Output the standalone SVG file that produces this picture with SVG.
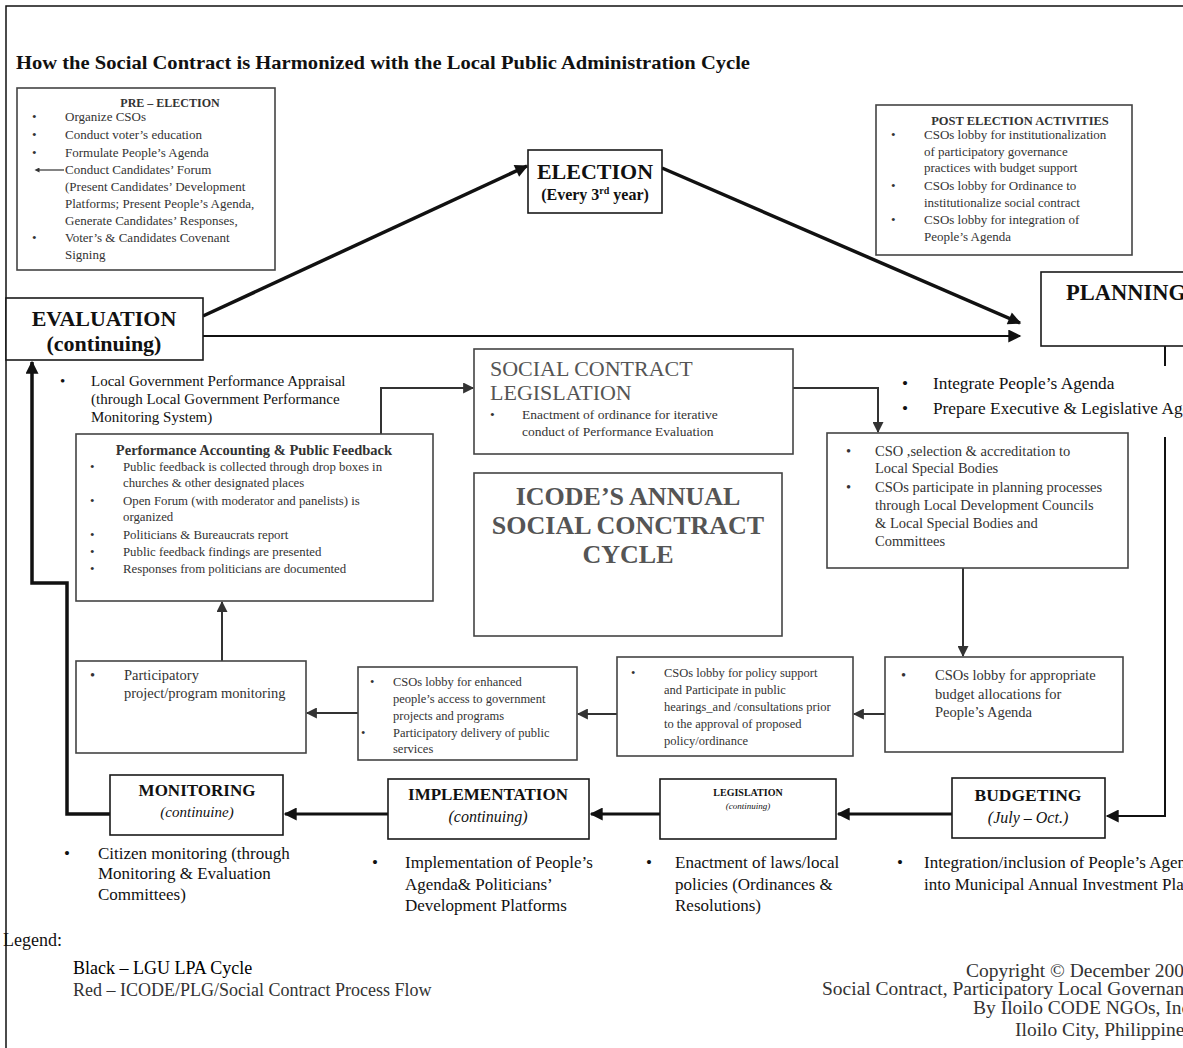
<svg xmlns="http://www.w3.org/2000/svg" width="1183" height="1048" viewBox="0 0 1183 1048">
<defs>
<marker id="ah" viewBox="0 0 10 10" refX="9" refY="5" markerWidth="16" markerHeight="13" markerUnits="userSpaceOnUse" orient="auto"><path d="M0,0 L10,5 L0,10 z" fill="#111"/></marker>
<marker id="ahg" viewBox="0 0 10 10" refX="9" refY="5" markerWidth="13" markerHeight="11" markerUnits="userSpaceOnUse" orient="auto"><path d="M0,0 L10,5 L0,10 z" fill="#333"/></marker>
<marker id="ahs" viewBox="0 0 10 10" refX="1" refY="5" markerWidth="6" markerHeight="5" markerUnits="userSpaceOnUse" orient="auto-start-reverse"><path d="M0,0 L10,5 L0,10 z" fill="#333"/></marker>
</defs>
<style>
text{font-family:"Liberation Serif","Times New Roman",serif;}
.box{fill:#fff;stroke:#1a1a1a;stroke-width:1.6}
.boxg{fill:#fff;stroke:#444;stroke-width:1.6}
.k{fill:#111}
.g{fill:#333}
.gl{fill:#555}
.b{font-weight:bold}
.i{font-style:italic}
.m{text-anchor:middle}
.ln{fill:none;stroke:#111}
.lg{fill:none;stroke:#333;stroke-width:2}
</style>
<rect width="1183" height="1048" fill="#fff"/>
<!-- page frame -->
<path d="M6,1048 V6 H1183" fill="none" stroke="#111" stroke-width="1.5"/>

<text x="16" y="69" font-size="19" class="k b" textLength="734" lengthAdjust="spacingAndGlyphs">How the Social Contract is Harmonized with the Local Public Administration Cycle</text>

<!-- connectors -->
<g id="connectors">
  <line class="ln" x1="203" y1="316" x2="527" y2="166" stroke-width="3.5" marker-end="url(#ah)"/>
  <line class="ln" x1="662" y1="168" x2="1020" y2="323" stroke-width="3.5" marker-end="url(#ah)"/>
  <line class="ln" x1="203" y1="336" x2="1020" y2="336" stroke-width="2" marker-end="url(#ah)"/>
  <line class="ln" x1="1165" y1="346" x2="1165" y2="366" stroke-width="2"/>
  <path class="ln" d="M1165,437 V816 H1107" stroke-width="2" marker-end="url(#ah)"/>
  <line class="ln" x1="952" y1="814" x2="838" y2="814" stroke-width="3" marker-end="url(#ah)"/>
  <line class="ln" x1="660" y1="814" x2="591" y2="814" stroke-width="3" marker-end="url(#ah)"/>
  <line class="ln" x1="388" y1="814" x2="285" y2="814" stroke-width="3" marker-end="url(#ah)"/>
  <path class="ln" d="M110,814 H67 V583 H32 V362" stroke-width="3.5" marker-end="url(#ah)"/>
  <path class="lg" d="M381,434 V388 H473" marker-end="url(#ahg)"/>
  <path class="lg" d="M793,388 H878 V432" marker-end="url(#ahg)"/>
  <line class="lg" x1="963" y1="568" x2="963" y2="656" marker-end="url(#ahg)"/>
  <line class="lg" x1="885" y1="714" x2="854" y2="714" marker-end="url(#ahg)"/>
  <line class="lg" x1="617" y1="714" x2="578" y2="714" marker-end="url(#ahg)"/>
  <line class="lg" x1="358" y1="713" x2="307" y2="713" marker-end="url(#ahg)"/>
  <line class="lg" x1="222" y1="661" x2="222" y2="602" marker-end="url(#ahg)"/>
</g>

<g id="pre-election">
  <rect class="boxg" x="17" y="88" width="258" height="182"/>
  <text x="170" y="107" font-size="12" class="g b m">PRE – ELECTION</text>
  <g font-size="13" class="g">
    <text x="32" y="121">•</text><text x="65" y="121">Organize CSOs</text>
    <text x="32" y="139">•</text><text x="65" y="139">Conduct voter’s education</text>
    <text x="32" y="157">•</text><text x="65" y="157">Formulate People’s Agenda</text>
    <text x="65" y="174">Conduct Candidates’ Forum</text>
    <text x="65" y="191">(Present Candidates’ Development</text>
    <text x="65" y="208">Platforms; Present People’s Agenda,</text>
    <text x="65" y="225">Generate Candidates’ Responses,</text>
    <text x="32" y="242">•</text><text x="65" y="242">Voter’s &amp; Candidates Covenant</text>
    <text x="65" y="259">Signing</text>
  </g>
  <line x1="64" y1="170" x2="39" y2="170" stroke="#333" stroke-width="1.2" marker-end="url(#ahs)"/>
</g>

<g id="post-election">
  <rect class="boxg" x="876" y="105" width="256" height="150"/>
  <text x="1020" y="125" font-size="12.5" class="g b m">POST ELECTION ACTIVITIES</text>
  <g font-size="13" class="g">
    <text x="891" y="139">•</text><text x="924" y="139">CSOs lobby for institutionalization</text>
    <text x="924" y="156">of participatory governance</text>
    <text x="924" y="172">practices with budget support</text>
    <text x="891" y="190">•</text><text x="924" y="190">CSOs lobby for Ordinance to</text>
    <text x="924" y="207">institutionalize social contract</text>
    <text x="891" y="224">•</text><text x="924" y="224">CSOs lobby for integration of</text>
    <text x="924" y="241">People’s Agenda</text>
  </g>
</g>

<g id="election">
  <rect class="box" x="528" y="150" width="134" height="63"/>
  <text x="595" y="179" font-size="22" class="k b m">ELECTION</text>
  <text x="595" y="200" font-size="16" class="k b m">(Every 3<tspan font-size="10" dy="-6">rd</tspan><tspan dy="6"> year)</tspan></text>
</g>

<g id="evaluation">
  <rect class="box" x="6" y="298" width="197" height="62"/>
  <text x="104" y="326" font-size="22" class="k b m">EVALUATION</text>
  <text x="104" y="351" font-size="22" class="k b m">(continuing)</text>
  <g font-size="15" class="k">
    <text x="60" y="386">•</text><text x="91" y="386">Local Government Performance Appraisal</text>
    <text x="91" y="404">(through Local Government Performance</text>
    <text x="91" y="422">Monitoring System)</text>
  </g>
</g>

<g id="planning">
  <rect class="box" x="1041" y="272" width="160" height="74"/>
  <text x="1066" y="300" font-size="22.5" class="k b">PLANNING</text>
  <g font-size="17.3" class="k">
    <text x="902" y="389">•</text><text x="933" y="389">Integrate People’s Agenda</text>
    <text x="902" y="414">•</text><text x="933" y="414">Prepare Executive &amp; Legislative Agenda</text>
  </g>
</g>

<g id="social-contract-legislation">
  <rect class="boxg" x="474" y="349" width="319" height="105"/>
  <text x="490" y="376" font-size="22" class="gl">SOCIAL CONTRACT</text>
  <text x="490" y="400" font-size="22" class="gl">LEGISLATION</text>
  <g font-size="13.5" class="g">
    <text x="490" y="419">•</text><text x="522" y="419">Enactment of ordinance  for iterative</text>
    <text x="522" y="436">conduct of Performance Evaluation</text>
  </g>
</g>

<g id="icode-cycle">
  <rect class="boxg" x="474" y="473" width="308" height="163"/>
  <g font-size="26" class="gl b m">
    <text x="628" y="505">ICODE’S ANNUAL</text>
    <text x="628" y="534">SOCIAL CONCTRACT</text>
    <text x="628" y="563">CYCLE</text>
  </g>
</g>

<g id="cso-selection">
  <rect class="boxg" x="827" y="433" width="301" height="135"/>
  <g font-size="14.5" class="g">
    <text x="846" y="456">•</text><text x="875" y="456">CSO ,selection &amp; accreditation to</text>
    <text x="875" y="473">Local Special Bodies</text>
    <text x="846" y="492">•</text><text x="875" y="492">CSOs participate in planning processes</text>
    <text x="875" y="510">through Local Development Councils</text>
    <text x="875" y="528">&amp; Local Special Bodies and</text>
    <text x="875" y="546">Committees</text>
  </g>
</g>

<g id="performance-accounting">
  <rect class="boxg" x="76" y="434" width="357" height="167"/>
  <text x="254" y="455" font-size="14.5" class="g b m">Performance Accounting &amp; Public Feedback</text>
  <g font-size="12.8" class="g">
    <text x="90" y="471">•</text><text x="123" y="471">Public feedback is collected through drop boxes in</text>
    <text x="123" y="487">churches &amp; other designated places</text>
    <text x="90" y="505">•</text><text x="123" y="505">Open Forum (with moderator and panelists) is</text>
    <text x="123" y="521">organized</text>
    <text x="90" y="539">•</text><text x="123" y="539">Politicians &amp; Bureaucrats report</text>
    <text x="90" y="556">•</text><text x="123" y="556">Public feedback findings are presented</text>
    <text x="90" y="573">•</text><text x="123" y="573">Responses from politicians are documented</text>
  </g>
</g>

<g id="participatory-monitoring">
  <rect class="boxg" x="76" y="661" width="230" height="92"/>
  <g font-size="14.5" class="g">
    <text x="90" y="680">•</text><text x="124" y="680">Participatory</text>
    <text x="124" y="698">project/program monitoring</text>
  </g>
</g>

<g id="cso-access">
  <rect class="boxg" x="358" y="667" width="219" height="93"/>
  <g font-size="12.5" class="g">
    <text x="370" y="686">•</text><text x="393" y="686">CSOs lobby for enhanced</text>
    <text x="393" y="703">people’s access to government</text>
    <text x="393" y="720">projects and programs</text>
    <text x="361" y="737">•</text><text x="393" y="737">Participatory delivery of public</text>
    <text x="393" y="753">services</text>
  </g>
</g>

<g id="cso-policy">
  <rect class="boxg" x="617" y="657" width="236" height="99"/>
  <g font-size="12.5" class="g">
    <text x="631" y="677">•</text><text x="664" y="677">CSOs lobby for policy support</text>
    <text x="664" y="694">and Participate in public</text>
    <text x="664" y="711">hearings_and /consultations prior</text>
    <text x="664" y="728">to the approval of  proposed</text>
    <text x="664" y="745">policy/ordinance</text>
  </g>
</g>

<g id="cso-budget">
  <rect class="boxg" x="885" y="657" width="238" height="95"/>
  <g font-size="14.5" class="g">
    <text x="901" y="680">•</text><text x="935" y="680">CSOs lobby for appropriate</text>
    <text x="935" y="699">budget allocations for</text>
    <text x="935" y="717">People’s Agenda</text>
  </g>
</g>

<g id="monitoring">
  <rect class="box" x="110" y="775" width="173" height="60"/>
  <text x="197" y="796" font-size="17" class="k b m">MONITORING</text>
  <text x="197" y="817" font-size="15" class="k i m">(continuine)</text>
  <g font-size="17" class="k">
    <text x="64" y="859">•</text><text x="98" y="859">Citizen monitoring (through</text>
    <text x="98" y="879">Monitoring &amp; Evaluation</text>
    <text x="98" y="900">Committees)</text>
  </g>
</g>

<g id="implementation">
  <rect class="box" x="388" y="779" width="201" height="60"/>
  <text x="488" y="800" font-size="17" class="k b m">IMPLEMENTATION</text>
  <text x="488" y="822" font-size="16" class="k i m">(continuing)</text>
  <g font-size="17" class="k">
    <text x="372" y="868">•</text><text x="405" y="868">Implementation of People’s</text>
    <text x="405" y="890">Agenda&amp; Politicians’</text>
    <text x="405" y="911">Development Platforms</text>
  </g>
</g>

<g id="legislation">
  <rect class="box" x="660" y="779" width="176" height="60"/>
  <text x="748" y="796" font-size="10" class="k b m">LEGISLATION</text>
  <text x="748" y="809" font-size="9" class="k i m">(continuing)</text>
  <g font-size="17" class="k">
    <text x="646" y="868">•</text><text x="675" y="868">Enactment of laws/local</text>
    <text x="675" y="890">policies (Ordinances &amp;</text>
    <text x="675" y="911">Resolutions)</text>
  </g>
</g>

<g id="budgeting">
  <rect class="box" x="952" y="778" width="153" height="60"/>
  <text x="1028" y="801" font-size="17.5" class="k b m">BUDGETING</text>
  <text x="1028" y="823" font-size="16" class="k i m">(July – Oct.)</text>
  <g font-size="17" class="k">
    <text x="897" y="868">•</text><text x="924" y="868">Integration/inclusion of People’s Agenda</text>
    <text x="924" y="890">into Municipal Annual Investment Plan</text>
  </g>
</g>

<g id="legend">
  <text x="3" y="946" font-size="18" class="k">Legend:</text>
  <text x="73" y="974" font-size="18" fill="#000">Black – LGU LPA Cycle</text>
  <text x="73" y="996" font-size="18" class="g">Red – ICODE/PLG/Social Contract Process Flow</text>
</g>

<g id="credits" font-size="19.5" class="g">
  <text x="966" y="977">Copyright © December 200</text>
  <text x="822" y="995">Social Contract, Participatory Local Governance</text>
  <text x="973" y="1014">By Iloilo CODE NGOs, Inc.</text>
  <text x="1015" y="1036">Iloilo City, Philippines</text>
</g>
</svg>
